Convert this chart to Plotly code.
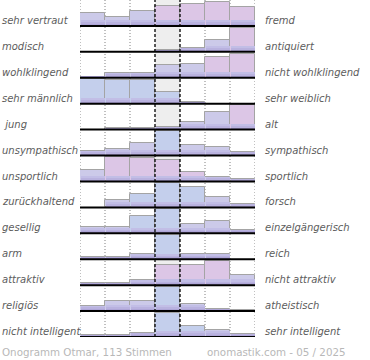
import plotly.graph_objects as go

# ---- data -------------------------------------------------------------
left_labels = ["sehr vertraut", "modisch", "wohlklingend", "sehr männlich", " jung",
               "unsympathisch", "unsportlich", "zurückhaltend", "gesellig", "arm",
               "attraktiv", "religiös", "nicht intelligent"]
right_labels = ["fremd", "antiquiert", "nicht wohlklingend", "sehr weiblich", "alt",
                "sympathisch", "sportlich", "forsch", "einzelgängerisch", "reich",
                "nicht attraktiv", "atheistisch", "sehr intelligent"]

# bar heights per row, relative to the row maximum (0-100), 7 scale steps
vertraut_fremd = [51, 37, 60, 80, 87, 97, 77]
modisch_antiquiert = [0, 0, 0, 6, 17, 47, 97]
wohlklingend = [4, 19, 19, 51, 55, 84, 97]
maennlich_weiblich = [100, 94, 94, 47, 6, 0, 0]
jung_alt = [0, 8, 8, 10, 32, 69, 99]
unsympathisch_sympathisch = [17, 27, 49, 97, 43, 35, 15]
unsportlich_sportlich = [44, 100, 96, 87, 37, 17, 9]
zurueckhaltend_forsch = [0, 29, 52, 96, 82, 42, 13]
gesellig_einzelgaenger = [26, 26, 70, 96, 36, 50, 13]
arm_reich = [9, 9, 20, 99, 23, 20, 0]
attraktiv_nicht = [10, 7, 19, 80, 80, 96, 40]
religioes_atheistisch = [20, 41, 41, 98, 27, 7, 4]
intelligent = [9, 9, 17, 98, 44, 27, 11]

# tint of each bar: b = blue (male voters), p = pink (female), m = mixed
tints = ["mmmpppp", "bbbmmmp", "mmmmmpp", "bbbbbbb", "mmmmmmp", "mmmbmmm", "mppppmm",
         "mmbbbmm", "mmbbmmm", "mmmbmmm", "mmmpppm", "mmmbmmm", "mmmbbmm"]

footer_left = "Onogramm Otmar, 113 Stimmen"
footer_right = "onomastik.com - 05 / 2025"

rows = [vertraut_fremd, modisch_antiquiert, wohlklingend, maennlich_weiblich, jung_alt,
        unsympathisch_sympathisch, unsportlich_sportlich, zurueckhaltend_forsch,
        gesellig_einzelgaenger, arm_reich, attraktiv_nicht, religioes_atheistisch, intelligent]

# ---- styling ---------------------------------------------------------
W, H = 370, 360
n = len(rows)
FULL = 25 / 26.0  # full bar height in row units
top_col = {"b": "#c4cfec", "p": "#dcc6e6", "m": "#cccae9"}

xs, bases, hs, cols = [], [], [], []
for i, r in enumerate(rows):
    base = n - 1 - i
    for j, v in enumerate(r):
        if v <= 0:
            continue
        xs.append(j)
        bases.append(base)
        hs.append(v / 100 * FULL)
        cols.append(top_col[tints[i][j]])

fig = go.Figure()
fig.add_trace(go.Bar(x=xs, y=hs, base=bases, width=1,
                     marker=dict(color=cols, line=dict(color="#a4a4a4", width=1)),
                     hoverinfo="skip"))
# pseudo gradient toward purple at the bottom
for frac, c in [(0.22, "#c2bee6"), (0.14, "#b9b2df"), (0.07, "#aea5d7")]:
    fig.add_trace(go.Bar(x=xs, y=[min(h, frac) for h in hs], base=bases, width=0.96,
                         marker=dict(color=c, line=dict(width=0)), hoverinfo="skip"))

ydom0 = (H - 337) / H
fig.update_layout(
    width=W, height=H, margin=dict(l=0, r=0, t=0, b=0),
    paper_bgcolor="white", plot_bgcolor="rgba(0,0,0,0)",
    barmode="overlay", bargap=0, showlegend=False,
    xaxis=dict(domain=[80 / W, 255 / W], range=[-0.5, 6.5], visible=False, fixedrange=True),
    yaxis=dict(domain=[ydom0, 1], range=[0, n], visible=False, fixedrange=True),
)

shapes = []
shapes.append(dict(type="rect", xref="x", yref="y", x0=2.5, x1=3.5, y0=0, y1=n,
                   fillcolor="#eeeeee", line=dict(width=0), layer="below"))
for xv in [-0.5, 0.5, 1.5, 4.5, 5.5, 6.5]:
    shapes.append(dict(type="line", xref="x", yref="y", x0=xv, x1=xv, y0=0, y1=n,
                       line=dict(color="#808080", width=1, dash="1px,2px"), layer="below"))
for xv in [2.5, 3.5]:
    shapes.append(dict(type="line", xref="x", yref="y", x0=xv, x1=xv, y0=0, y1=n,
                       line=dict(color="#000000", width=1.3, dash="3px,2px"), layer="above"))
for i in range(n):
    b = n - 1 - i
    shapes.append(dict(type="line", xref="x", yref="y", x0=-0.5, x1=6.5, y0=b, y1=b,
                       line=dict(color="#000000", width=2), layer="above"))
fig.update_layout(shapes=shapes)

lab_font = dict(family="DejaVu Sans", size=10, color="#5c5c5c", style="italic")
for i in range(n):
    yc = n - 1 - i + 0.21
    fig.add_annotation(text=left_labels[i], xref="paper", yref="y", x=0, y=yc,
                       xanchor="left", yanchor="middle", showarrow=False, font=lab_font)
    fig.add_annotation(text=right_labels[i], xref="paper", yref="y", x=263 / W, y=yc,
                       xanchor="left", yanchor="middle", showarrow=False, font=lab_font)

foot_font = dict(family="DejaVu Sans", size=10.3, color="#b8b8b8")
fig.add_annotation(text=footer_left, xref="paper", yref="paper", x=0, y=(H - 352) / H,
                   xanchor="left", yanchor="middle", showarrow=False, font=foot_font)
fig.add_annotation(text=footer_right, xref="paper", yref="paper", x=348 / W, y=(H - 352) / H,
                   xanchor="right", yanchor="middle", showarrow=False, font=foot_font)

fig.write_html("out.html", config={"displayModeBar": False},
               post_script="document.body.style.margin='0';document.body.style.overflow='hidden';")
